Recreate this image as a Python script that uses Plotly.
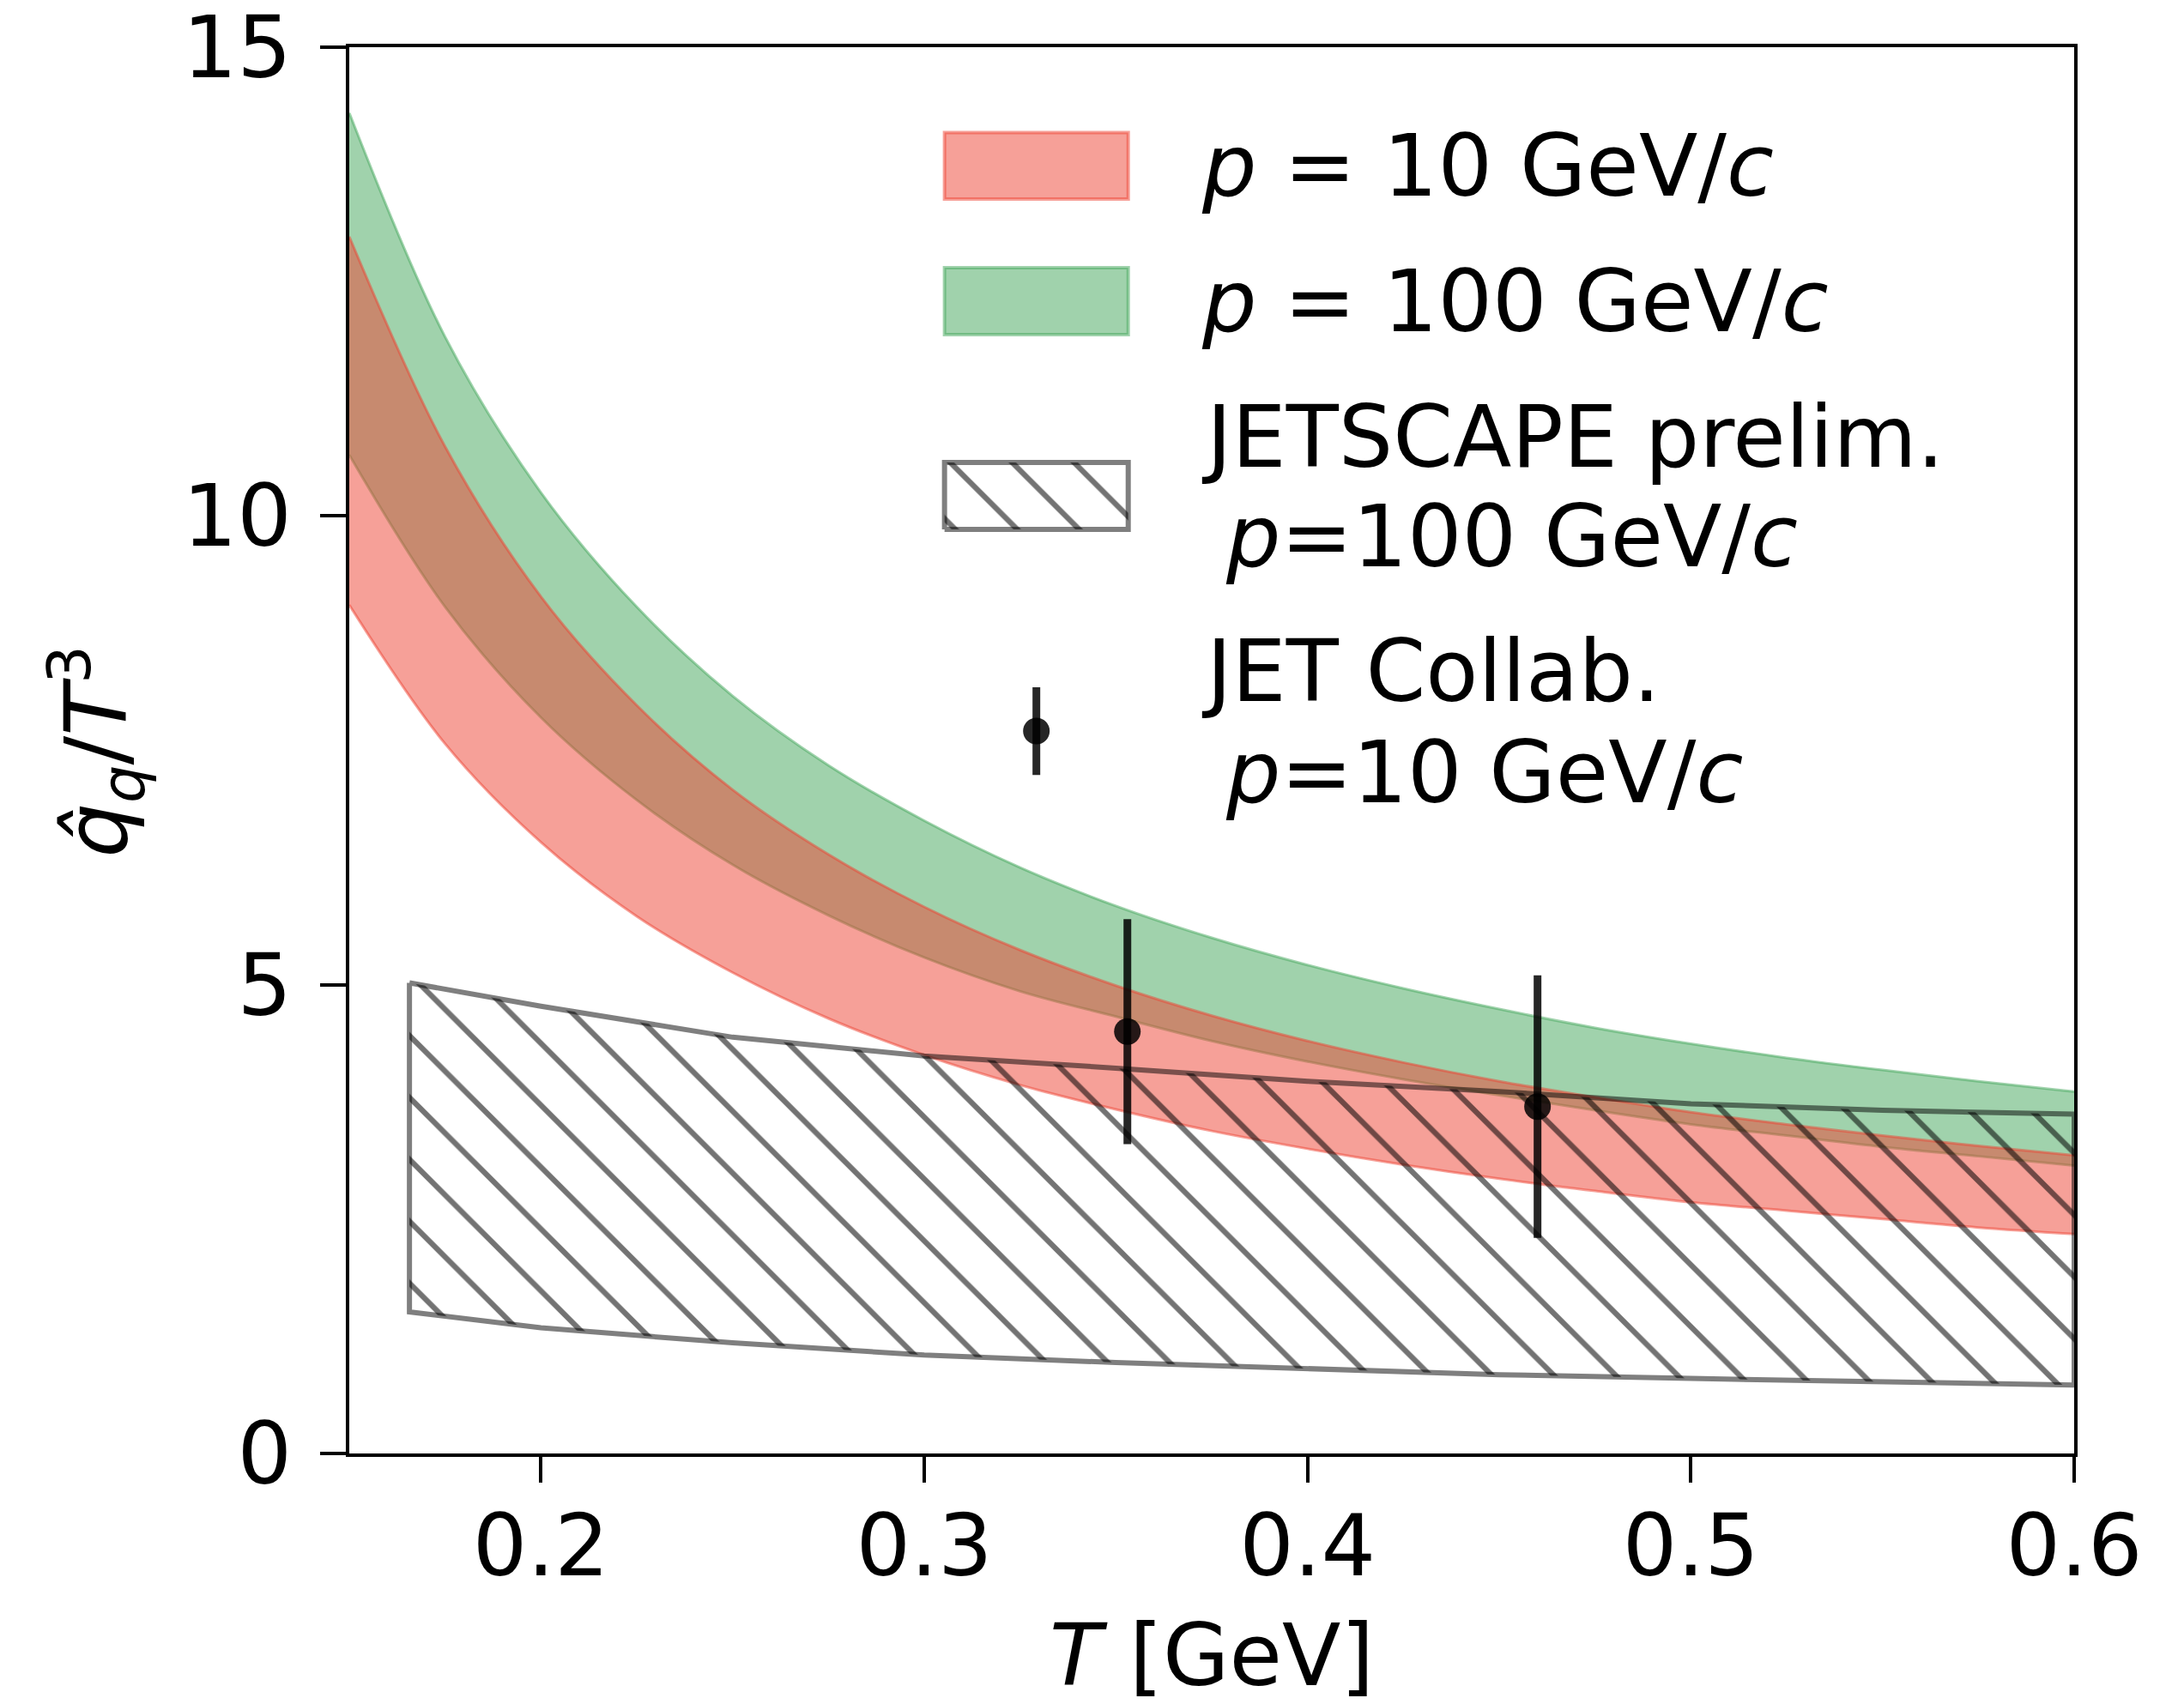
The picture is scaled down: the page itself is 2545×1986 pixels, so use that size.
import plotly.graph_objects as go

# Temperature grid for the model bands [GeV]
T_grid = [0.15, 0.175, 0.2, 0.225, 0.25, 0.275, 0.3, 0.325, 0.35, 0.375,
          0.4, 0.425, 0.45, 0.475, 0.5, 0.525, 0.55, 0.575, 0.6]

# qhat/T^3 band edges, p = 10 GeV/c
p10_upper = [12.98, 10.74, 9.14, 7.98, 7.08, 6.39, 5.83, 5.37, 4.99, 4.67,
             4.40, 4.17, 3.97, 3.80, 3.64, 3.51, 3.39, 3.28, 3.18]
p10_lower = [9.05, 7.57, 6.52, 5.73, 5.13, 4.64, 4.25, 3.93, 3.67, 3.44,
             3.25, 3.08, 2.93, 2.80, 2.68, 2.59, 2.50, 2.41, 2.34]

# qhat/T^3 band edges, p = 100 GeV/c
p100_upper = [14.30, 11.91, 10.25, 9.03, 8.08, 7.34, 6.75, 6.25, 5.84, 5.50,
              5.21, 4.96, 4.74, 4.54, 4.37, 4.22, 4.09, 3.97, 3.86]
p100_lower = [10.65, 9.03, 7.85, 6.97, 6.28, 5.74, 5.29, 4.93, 4.66, 4.40,
              4.18, 3.99, 3.82, 3.66, 3.51, 3.39, 3.27, 3.17, 3.07]

# JETSCAPE preliminary band, p = 100 GeV/c
jetscape_T = [0.1657, 0.2, 0.25, 0.3, 0.35, 0.4, 0.45, 0.5, 0.55, 0.6]
jetscape_upper = [5.02, 4.77, 4.44, 4.24, 4.11, 3.97, 3.86, 3.73, 3.66, 3.62]
jetscape_lower = [1.51, 1.34, 1.18, 1.05, 0.97, 0.90, 0.84, 0.80, 0.76, 0.73]

# JET Collaboration extraction, p = 10 GeV/c
jet_T = [0.353, 0.46]
jet_qhat = [4.5, 3.7]
jet_err = [1.2, 1.4]

FONT = "DejaVu Sans"
FS = 100
RED = "rgba(237,65,49,0.5)"
GREEN = "rgba(65,165,89,0.5)"
HATCH_EDGE = "rgba(0,0,0,0.5)"
DOT = "rgba(0,0,0,0.85)"
HATCH = dict(shape="\\", fgcolor="black", fgopacity=0.55,
             bgcolor="rgba(0,0,0,0)", size=51, solidity=0.125)

fig = go.Figure()


def add_band(lower, upper, color):
    fig.add_trace(go.Scatter(x=T_grid, y=lower, mode="lines",
                             line=dict(color=color, width=3, shape="spline"),
                             showlegend=False, hoverinfo="skip"))
    fig.add_trace(go.Scatter(x=T_grid, y=upper, mode="lines", fill="tonexty",
                             fillcolor=color,
                             line=dict(color=color, width=3, shape="spline"),
                             showlegend=False, hoverinfo="skip"))


add_band(p100_lower, p100_upper, GREEN)
add_band(p10_lower, p10_upper, RED)

# hatched JETSCAPE region as a closed polygon
poly_x = jetscape_T + jetscape_T[::-1] + [jetscape_T[0]]
poly_y = jetscape_upper + jetscape_lower[::-1] + [jetscape_upper[0]]
fig.add_trace(go.Scatter(x=poly_x, y=poly_y, mode="lines", fill="toself",
                         fillcolor="rgba(0,0,0,0)", fillpattern=HATCH,
                         line=dict(color=HATCH_EDGE, width=6),
                         showlegend=False, hoverinfo="skip"))

# JET points with vertical error bars
fig.add_trace(go.Scatter(x=jet_T, y=jet_qhat, mode="markers",
                         marker=dict(color=DOT, size=31),
                         error_y=dict(type="data", array=jet_err, color=DOT,
                                      thickness=9, width=0),
                         showlegend=False, hoverinfo="skip"))

# ---- legend keys, drawn in a unit box laid over the plotting area ----
key_x0, key_x1 = 0.3451, 0.4516
key_rows = {"p10": (0.892, 0.9393), "p100": (0.7956, 0.8432), "jetscape": (0.6571, 0.7047)}
shapes = []
for name, col in (("p10", RED), ("p100", GREEN)):
    y0, y1 = key_rows[name]
    shapes.append(dict(type="rect", xref="x2", yref="y2", x0=key_x0, x1=key_x1,
                       y0=y0, y1=y1, fillcolor=col, line=dict(color=col, width=4)))
y0, y1 = key_rows["jetscape"]
fig.add_trace(go.Scatter(x=[key_x0, key_x1, key_x1, key_x0, key_x0],
                         y=[y0, y0, y1, y1, y0], xaxis="x2", yaxis="y2",
                         mode="lines", fill="toself", fillcolor="rgba(0,0,0,0)",
                         fillpattern=HATCH, line=dict(color=HATCH_EDGE, width=6),
                         showlegend=False, hoverinfo="skip"))
fig.add_trace(go.Scatter(x=[(key_x0 + key_x1) / 2], y=[0.5137], xaxis="x2", yaxis="y2",
                         mode="markers", marker=dict(color=DOT, size=31),
                         error_y=dict(type="data", array=[0.0312], color=DOT,
                                      thickness=9, width=0),
                         showlegend=False, hoverinfo="skip"))

text_x = 0.4929
indent_x = 0.5068
legend_lines = [
    (text_x, 0.9152, "<i>p</i> = 10 GeV/<i>c</i>"),
    (text_x, 0.8188, "<i>p</i> = 100 GeV/<i>c</i>"),
    (text_x, 0.7224, "JETSCAPE prelim."),
    (indent_x, 0.6522, "<i>p</i>=100 GeV/<i>c</i>"),
    (text_x, 0.5561, "JET Collab."),
    (indent_x, 0.4844, "<i>p</i>=10 GeV/<i>c</i>"),
]
annotations = []
for x, y, txt in legend_lines:
    annotations.append(dict(xref="x2", yref="y2", x=x, y=y, text=txt,
                            showarrow=False, xanchor="left", yanchor="middle",
                            font=dict(family=FONT, size=FS, color="black")))

# axis titles
annotations.append(dict(xref="paper", yref="paper", x=0.5, y=-0.1434,
                        text="<i>T</i> [GeV]", showarrow=False,
                        xanchor="center", yanchor="middle",
                        font=dict(family=FONT, size=FS, color="black")))
annotations.append(dict(xref="paper", yref="paper", x=-0.1466, y=0.499,
                        text="<i>q\u0302</i><sub><i>q</i></sub>/<i>T</i><sup>3</sup>",
                        showarrow=False, textangle=-90,
                        xanchor="center", yanchor="middle",
                        font=dict(family=FONT, size=FS, color="black")))

axis_common = dict(showgrid=False, zeroline=False, showline=True, linewidth=4,
                   linecolor="black", mirror=True, ticks="outside", ticklen=30,
                   tickwidth=4, tickcolor="black", ticklabeloverflow="allow",
                   automargin=False,
                   tickfont=dict(family=FONT, size=FS, color="black"))

fig.update_layout(
    width=2545, height=1986,
    margin=dict(l=407, r=128, t=55, b=292, pad=0, autoexpand=False),
    paper_bgcolor="white", plot_bgcolor="white",
    font=dict(family=FONT, size=FS, color="black"),
    xaxis=dict(range=[0.15, 0.6], tickvals=[0.2, 0.3, 0.4, 0.5, 0.6],
               ticktext=["0.2", "0.3", "0.4", "0.5", "0.6"],
               ticklabelstandoff=-12, **axis_common),
    yaxis=dict(range=[0, 15], tickvals=[0, 5, 10, 15],
               ticktext=["0", "5", "10", "15"],
               ticklabelstandoff=13, **axis_common),
    xaxis2=dict(overlaying="x", range=[0, 1], visible=False),
    yaxis2=dict(overlaying="y", range=[0, 1], visible=False),
    shapes=shapes,
    annotations=annotations,
    showlegend=False,
)

fig.write_html("out.html")
